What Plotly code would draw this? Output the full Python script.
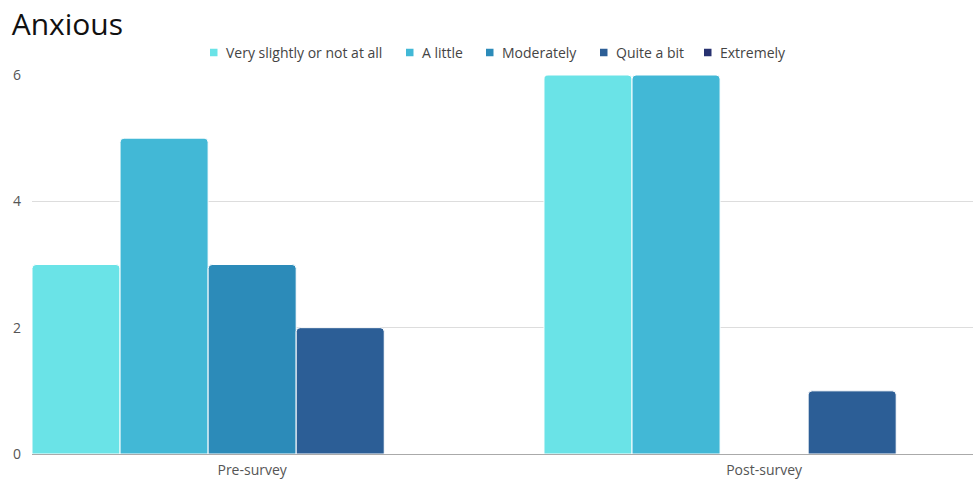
import plotly.graph_objects as go

categories = ["Pre-survey", "Post-survey"]
series_names = ["Very slightly or not at all", "A little", "Moderately", "Quite a bit", "Extremely"]
very_slightly = [3, 6]
a_little = [5, 6]
moderately = [3, 0]
quite_a_bit = [2, 1]
extremely = [0, 0]
y_ticks = [0, 2, 4, 6]

values = [very_slightly, a_little, moderately, quite_a_bit, extremely]
colors = ["#6AE3E7", "#42B8D6", "#2C8BB9", "#2C5E96", "#283270"]

W, H = 973, 482
M_L, M_R, M_T, M_B = 32, 0, 75, 28
PW, PH = W - M_L - M_R, H - M_T - M_B

def px_x(p):
    return (p - M_L) / PW

def px_y(p):
    return (H - M_B - p) / PH

font = "Open Sans, sans-serif"

fig = go.Figure()
for name, vals, col in zip(series_names, values, colors):
    fig.add_trace(go.Bar(
        name=name, x=categories, y=vals, showlegend=False,
        marker=dict(color=col, line=dict(color="white", width=1)),
    ))

# compact horizontal legend: small square swatch followed by its label
legend_left_px = [210, 406, 486, 600, 704]
legend_mid_px = 52.5
for name, col, lx in zip(series_names, colors, legend_left_px):
    fig.add_shape(type="rect", xref="paper", yref="paper",
                  x0=px_x(lx), x1=px_x(lx + 7.5),
                  y0=px_y(legend_mid_px + 3.75), y1=px_y(legend_mid_px - 3.75),
                  fillcolor=col, line=dict(width=0))
    fig.add_annotation(text=name, xref="paper", yref="paper",
                       x=px_x(lx + 14), y=px_y(legend_mid_px),
                       xanchor="left", yanchor="middle", showarrow=False,
                       font=dict(family=font, size=14, color="#444444"))

fig.update_layout(
    width=W, height=H,
    margin=dict(l=M_L, r=M_R, t=M_T, b=M_B),
    paper_bgcolor="white", plot_bgcolor="white",
    barmode="group", bargap=0.14, bargroupgap=0.0,
    barcornerradius=4,
    font=dict(family=font, color="#444444", size=14),
    title=dict(text="Anxious", x=0.012, xanchor="left", y=0.95, yanchor="middle",
               font=dict(family=font, size=30, color="#111111")),
    showlegend=False,
)
fig.update_xaxes(
    type="category", range=[-0.43, 1.408],
    showgrid=False, showline=False, ticks="", ticklabelstandoff=6,
    tickfont=dict(family=font, size=14, color="#555555"),
)
fig.update_yaxes(
    range=[0, 6], tickvals=y_ticks, showgrid=True, gridcolor="#DDDDDD", gridwidth=1,
    zeroline=True, zerolinecolor="#AAAAAA", zerolinewidth=1,
    ticks="", ticklabelstandoff=10,
    tickfont=dict(family=font, size=14, color="#555555"),
)
fig.write_html("out.html")
